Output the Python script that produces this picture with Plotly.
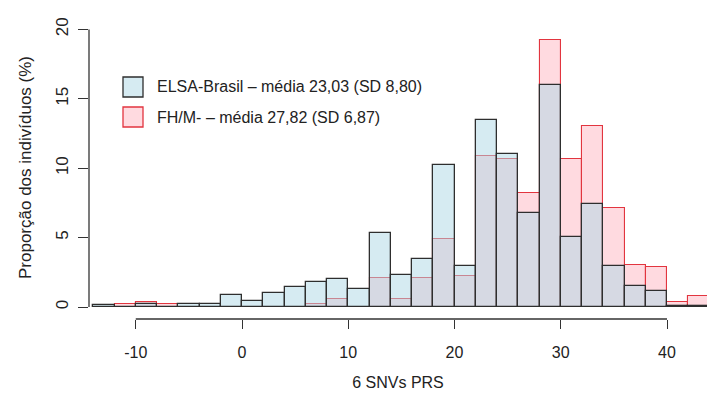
import plotly.graph_objects as go

# Histogram bins (left edges, bin width 2)
bin_left = [-14, -12, -10, -8, -6, -4, -2, 0, 2, 4, 6, 8, 10, 12, 14, 16, 18, 20,
            22, 24, 26, 28, 30, 32, 34, 36, 38, 40, 42]
bin_width = 2

elsa_pct = [0.12, 0, 0.2, 0, 0.22, 0.22, 0.89, 0.4, 1.0, 1.44, 1.82, 2.04, 1.3, 5.33,
            2.34, 3.46, 10.2, 2.93, 13.49, 11.02, 6.77, 15.99, 5.04, 7.44, 2.93,
            1.53, 1.12, 0.06, 0.04]
fh_pct = [0, 0.2, 0.36, 0.2, 0, 0, 0, 0, 0, 0, 0.22, 0.6, 0, 2.1, 0.6, 2.09, 4.92,
          2.25, 10.85, 10.66, 8.21, 19.21, 10.66, 13.01, 7.13, 3.05, 2.88, 0.37, 0.78]

x_ticks = [-10, 0, 10, 20, 30, 40]
x_tick_text = ["-10", "0", "10", "20", "30", "40"]
y_ticks = [0, 5, 10, 15, 20]

legend_labels = ["ELSA-Brasil – média 23,03 (SD 8,80)", "FH/M- – média 27,82 (SD 6,87)"]
x_title = "6 SNVs PRS"
y_title = "Proporção dos indivíduos (%)"

ELSA_FILL = "rgba(173,216,230,0.5)"
ELSA_LINE = "#2e2e2e"
FH_FILL = "rgba(255,182,193,0.5)"
FH_LINE = "#e2353f"

centers = [b + bin_width / 2 for b in bin_left]

fig = go.Figure()
fig.add_trace(go.Bar(x=centers, y=fh_pct, width=bin_width,
                     marker=dict(color=FH_FILL, line=dict(color=FH_LINE, width=1.1)),
                     name=legend_labels[1], showlegend=False))
fig.add_trace(go.Bar(x=centers, y=elsa_pct, width=bin_width,
                     marker=dict(color=ELSA_FILL, line=dict(color=ELSA_LINE, width=1.3)),
                     name=legend_labels[0], showlegend=False))

FONT = "Liberation Sans, Arial, sans-serif"
W, H = 707, 402
ml, mr, mt, mb = 89, 0, 20, 83
pw, ph = W - ml - mr, H - mt - mb

def px_to_paper_x(px):
    return (px - ml) / pw

def px_to_paper_y(py):
    return (H - mb - py) / ph

# R-style axis lines spanning only the tick range
fig.add_shape(type="line", xref="x", yref="paper", x0=x_ticks[0], x1=x_ticks[-1],
              y0=0, y1=0, line=dict(color="#333", width=1.3))
fig.add_shape(type="line", xref="paper", yref="y", x0=0, x1=0,
              y0=y_ticks[0], y1=y_ticks[-1], line=dict(color="#333", width=1.3))

# Legend (drawn manually to match R's large boxes)
legend_fills = [ELSA_FILL, FH_FILL]
legend_lines = [ELSA_LINE, FH_LINE]
legend_rows = [87, 117]
for lab, fc, lc, yc in zip(legend_labels, legend_fills, legend_lines, legend_rows):
    fig.add_shape(type="rect", xref="paper", yref="paper",
                  x0=px_to_paper_x(123), x1=px_to_paper_x(143),
                  y0=px_to_paper_y(yc + 10), y1=px_to_paper_y(yc - 10),
                  fillcolor=fc, line=dict(color=lc, width=1.3))
    fig.add_annotation(xref="paper", yref="paper", x=px_to_paper_x(155),
                       y=px_to_paper_y(yc), text=lab, showarrow=False,
                       xanchor="left", yanchor="middle",
                       font=dict(family=FONT, size=16, color="#222"))

fig.add_annotation(xref="paper", yref="paper", x=px_to_paper_x(25),
                   y=px_to_paper_y(168), text=y_title, textangle=-90,
                   showarrow=False, xanchor="center", yanchor="middle",
                   font=dict(family=FONT, size=17, color="#222"))

x_lo = (ml - 242) / 10.625
x_hi = (W - 242) / 10.625
y_lo = -(319 - 307) / 13.88
y_hi = (307 - mt) / 13.88

fig.update_layout(
    width=W, height=H,
    margin=dict(l=ml, r=mr, t=mt, b=mb, pad=0),
    paper_bgcolor="white", plot_bgcolor="white",
    barmode="overlay", bargap=0,
    showlegend=False,
    xaxis=dict(range=[x_lo, x_hi], tickvals=x_ticks, ticktext=x_tick_text,
               ticks="outside", ticklen=9, ticklabelstandoff=10,
               tickwidth=1.3, tickcolor="#333", showgrid=False, zeroline=False,
               showline=False, tickfont=dict(family=FONT, size=16, color="#222"),
               title=dict(text=x_title, font=dict(family=FONT, size=16, color="#222"),
                          standoff=16)),
    yaxis=dict(range=[y_lo, y_hi], tickvals=y_ticks, ticks="outside", ticklen=10,
               ticklabelstandoff=3,
               tickwidth=1.3, tickcolor="#333", showgrid=False, zeroline=False,
               showline=False, tickangle=-90,
               tickfont=dict(family=FONT, size=17, color="#222")),
)

fig.write_html("out.html")
